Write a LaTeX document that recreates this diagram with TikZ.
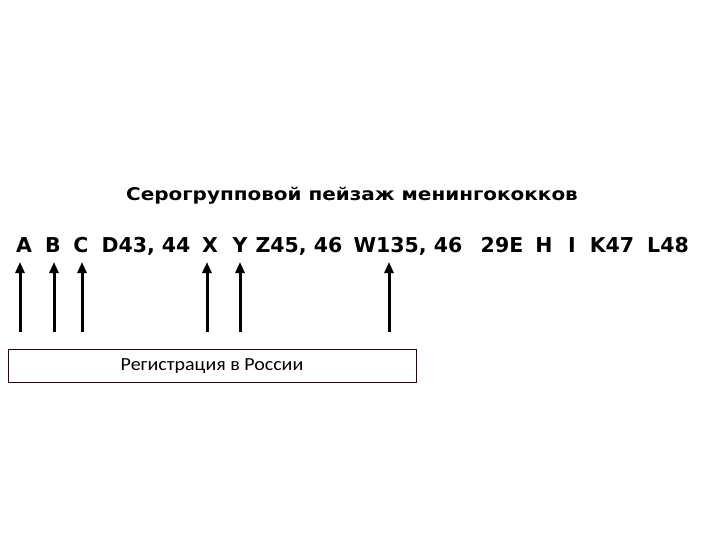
\documentclass[tikz,border=0pt]{standalone}
\usepackage{fontspec}
\setmainfont{DejaVu Sans}
\newfontfamily\titlefont[FakeStretch=1.14]{DejaVu Sans}
\newfontfamily\boxfont[FakeStretch=1.08]{Carlito}
\usetikzlibrary{arrows.meta}
\begin{document}
\begin{tikzpicture}[x=1pt,y=-1pt,
  tok/.style={inner sep=0pt,anchor=base,font=\fontsize{20.5}{24}\selectfont\bfseries},
  arr/.style={line width=3pt,-{Triangle[width=9pt,length=11pt]}},
  regbox/.style={draw=black!80!red,line width=0.8pt,minimum width=408pt,minimum height=33pt,inner sep=0pt,anchor=north west}]
\useasboundingbox (0,0) rectangle (720,540);
\node[inner sep=0pt,anchor=base,font=\titlefont\fontsize{17.5}{20}\selectfont\bfseries] (title) at (352,201) {Серогрупповой пейзаж менингококков};
\node[tok] (A) at (24,252) {A};
\node[tok] (B) at (53,252) {B};
\node[tok] (C) at (81,252) {C};
\node[tok] (D) at (146,252) {D43, 44};
\node[tok] (X) at (210,252) {X};
\node[tok] (Y) at (240,252) {Y};
\node[tok] (Z) at (299,252) {Z45, 46};
\node[tok] (W) at (408,252) {W135, 46};
\node[tok] (E) at (502,252) {29E};
\node[tok] (H) at (544,252) {H};
\node[tok] (I) at (572,252) {I};
\node[tok] (K) at (612,252) {K47};
\node[tok] (L) at (668,252) {L48};
\node[regbox] (reg) at (8,349) {};
\node[font=\boxfont\fontsize{18.5}{21}\selectfont,inner sep=0pt,anchor=base] (regt) at (212,370) {Регистрация в России};
\coordinate (tA) at (20,262); \coordinate (bA) at (20,332);
\coordinate (tB) at (54,262); \coordinate (bB) at (54,332);
\coordinate (tC) at (82,262); \coordinate (bC) at (82,332);
\coordinate (tX) at (207,262); \coordinate (bX) at (207,332);
\coordinate (tY) at (240,262); \coordinate (bY) at (240,332);
\coordinate (tW) at (389,262); \coordinate (bW) at (389,332);
\foreach \k in {A,B,C,X,Y,W} \draw[arr] (b\k) -- (t\k);
\end{tikzpicture}
\end{document}
